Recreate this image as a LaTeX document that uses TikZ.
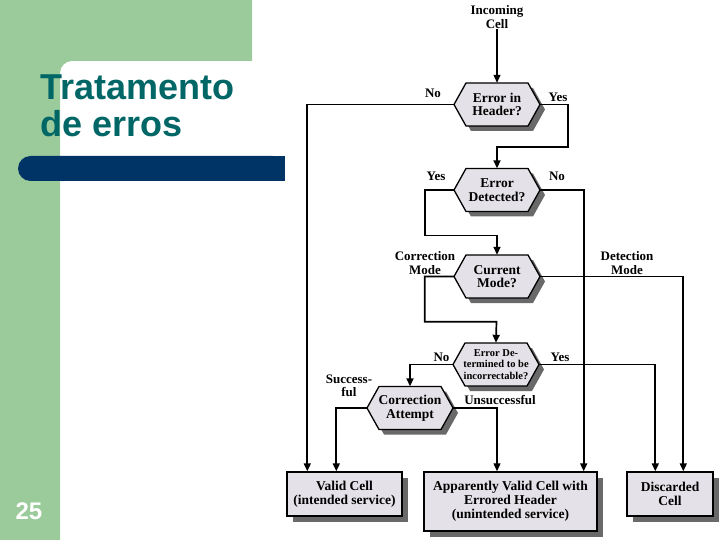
\documentclass[tikz,border=0pt]{standalone}
\usepackage{fontspec}
\setmainfont{Liberation Serif}
\newfontfamily\titlefont{Liberation Sans}
\usetikzlibrary{arrows.meta,calc,shadows}
\definecolor{bggreen}{RGB}{155,203,155}
\definecolor{navybar}{RGB}{0,51,102}
\definecolor{titleteal}{RGB}{0,102,102}
\definecolor{hexfill}{RGB}{228,226,232}
\definecolor{shadowc}{RGB}{105,105,105}
\tikzset{
  hexn/.style={rectangle, minimum width=86pt, minimum height=43pt, inner sep=0pt, align=center,
    font=\bfseries\fontsize{13.5}{13.6}\selectfont},
  hexsmall/.style={hexn, font=\bfseries\fontsize{10.5}{11.3}\selectfont},
  lbl/.style={inner sep=0pt, align=center, font=\bfseries\fontsize{13}{13.5}\selectfont},
  outbox/.style={draw, line width=1.4pt, fill=hexfill, align=center, inner sep=0pt,
    font=\bfseries\fontsize{13.5}{14}\selectfont,
    general shadow={fill=shadowc, shadow xshift=6pt, shadow yshift=-6pt}},
  conn/.style={line width=1.7pt, -{Triangle[length=8pt,width=7pt]}},
  thinconn/.style={line width=1.1pt, -{Triangle[length=8pt,width=7pt]}}
}
\newcommand\myhex[4]{%
  \fill[shadowc] (#2-31+5,#3-21.5+5) -- (#2+31+5,#3-21.5+5) -- (#2+43+5,#3+5) -- (#2+31+5,#3+21.5+5) -- (#2-31+5,#3+21.5+5) -- (#2-43+5,#3+5) -- cycle;
  \filldraw[fill=hexfill, draw=black, line width=1.3pt] (#2-31,#3-21.5) -- (#2+31,#3-21.5) -- (#2+43,#3) -- (#2+31,#3+21.5) -- (#2-31,#3+21.5) -- (#2-43,#3) -- cycle;
  \node[#4] (#1) at (#2,#3)}
\begin{document}
\begin{tikzpicture}[x=1pt,y=-1pt]
\useasboundingbox (0,0) rectangle (720,540);
% background
\fill[white] (0,0) rectangle (720,540);
\fill[bggreen] (0,0) -| (252,61) -- (72,61) to[out=180,in=90] (60,73) -- (60,540) -- (0,540) -- cycle;
\fill[navybar, rounded corners=12.5pt] (18,156) rectangle (285,181);
\fill[navybar] (100,156) rectangle (285,181);
\node[anchor=base west, inner sep=0pt, text=titleteal, font=\titlefont\bfseries\fontsize{36}{38}\selectfont] (t1) at (40,99.5) {Tratamento};
\node[anchor=base west, inner sep=0pt, text=titleteal, font=\titlefont\bfseries\fontsize{36}{38}\selectfont] (t2) at (40,137) {de erros};
\node[anchor=base, inner sep=0pt, text=white, font=\titlefont\bfseries\fontsize{24}{26}\selectfont] (pg) at (29,519.5) {25};

% diagram
\node[lbl, font=\bfseries\fontsize{13}{14}\selectfont] (in) at (497,17) {Incoming\\Cell};
\myhex{h1}{497}{104.5}{hexn} {Error in\\Header?};
\myhex{h2}{497}{190}{hexn} {Error\\Detected?};
\myhex{h3}{497}{276.5}{hexn} {Current\\Mode?};
\myhex{h4}{496}{364.5}{hexsmall} {Error De-\\termined to be\\incorrectable?};
\myhex{h5}{410}{408}{hexn} {Correction\\Attempt};

\node[outbox, minimum width=115pt, minimum height=44pt] (vc) at (344.5,494) {Valid Cell\\(intended service)};
\node[outbox, minimum width=173pt, minimum height=59pt] (ap) at (510.5,501.5) {Apparently Valid Cell with\\Errored Header\\(unintended service)};
\node[outbox, minimum width=86pt, minimum height=44pt] (dc) at (670,494) {Discarded\\Cell};

% labels
\node[lbl] (l1) at (433,93) {No};
\node[lbl] (l2) at (558,97) {Yes};
\node[lbl] (l3) at (436,176) {Yes};
\node[lbl] (l4) at (557,176) {No};
\node[lbl] (l5) at (425,263) {Correction\\Mode};
\node[lbl] (l6) at (627,263) {Detection\\Mode};
\node[lbl] (l7) at (441.5,357) {No};
\node[lbl] (l8) at (560,357) {Yes};
\node[lbl] (l9) at (349,386) {Success-\\ful};
\node[lbl] (l10) at (500,400) {Unsuccessful};

% connectors
\draw[thinconn] (in) -- (h1.north);
\draw[conn] (h1.west) -| ([xshift=21pt]vc.north west);
\draw[conn] (h1.east) -- ++(28,0) |- ($(h1.south)!.5!(h2.north)$) -- (h2.north);
\draw[conn] (h2.west) -- ++(-29,0) |- ($(h2.south)!.55!(h3.north)$) -- (h3.north);
\draw[conn] (h2.east) -| ([xshift=-14pt]ap.north east);
\draw[conn] (h3.west) -- ++(-29,0) |- ($(h3.south)!.53!(h4.north)$) -- (h4.north);
\draw[conn] (h3.east) -| ([xshift=57pt]dc.north west);
\draw[conn] (h4.west) -| (h5.north);
\draw[conn] (h4.east) -| ([xshift=29pt]dc.north west);
\draw[conn] (h5.west) -| ([xshift=50pt]vc.north west);
\draw[thinconn] (h5.east) -| (h1.south |- ap.north);
\end{tikzpicture}
\end{document}
